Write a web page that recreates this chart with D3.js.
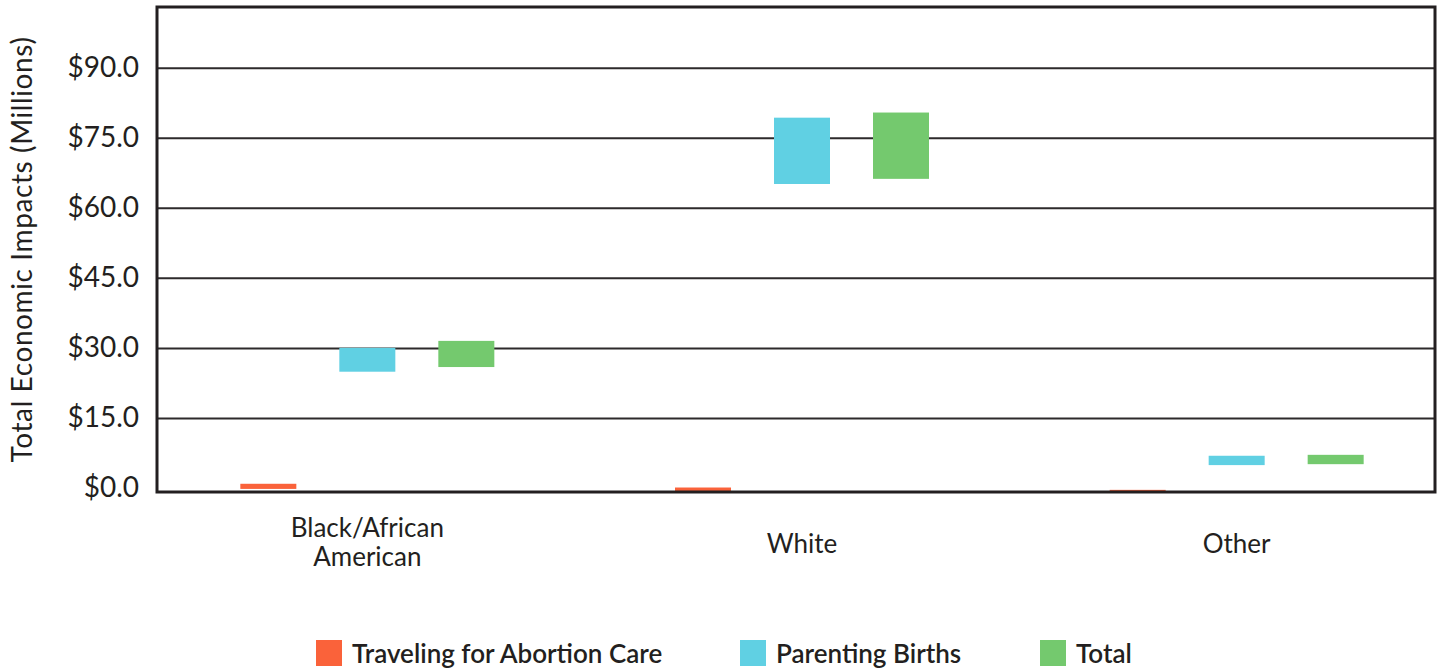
<!DOCTYPE html>
<html>
<head>
<meta charset="utf-8">
<script src="https://cdn.jsdelivr.net/npm/d3@7"></script>
<style>
  body { margin: 0; background: #fff; }
  text { font-family: Lato, "Open Sans", sans-serif; fill: #231f20; }
</style>
</head>
<body>
<div id="chart"></div>
<script>
// categories and series
const categories = ["Black/African American", "White", "Other"];
const categoryLines = [["Black/African", "American"], ["White"], ["Other"]];
const series = ["Traveling for Abortion Care", "Parenting Births", "Total"];
const colors = ["#fa623a", "#60d0e3", "#74c96e"];

// low / high of each floating bar, in millions, per category
const travelLow  = [-0.2, -0.7, -0.8];
const travelHigh = [0.9, 0.1, -0.4];
const parentLow  = [24.9, 65.1, 4.9];
const parentHigh = [30.0, 79.3, 6.9];
const totalLow   = [25.9, 66.2, 5.1];
const totalHigh  = [31.5, 80.4, 7.1];

const yTicks = [0, 15, 30, 45, 60, 75, 90];

const width = 1443, height = 670;
const frame = {left: 157, right: 1435, top: 7, bottom: 492};

const svg = d3.select("#chart").append("svg")
    .attr("width", width)
    .attr("height", height);

const y = d3.scaleLinear()
    .domain([-0.86, 103])
    .range([frame.bottom, frame.top]);

const x = d3.scaleBand()
    .domain(categories)
    .range([150, 1454]);

const xSub = d3.scalePoint()
    .domain(series)
    .range([-99, 99]);
const barWidth = 56;

// gridlines + tick labels
svg.append("g")
    .attr("transform", `translate(${frame.left},0)`)
    .call(d3.axisLeft(y).tickValues(yTicks).tickFormat(d => "$" + d3.format(".1f")(d)).tickSize(0).tickPadding(18))
    .call(g => g.select(".domain").remove())
    .call(g => g.selectAll(".tick text").style("font-size", "28px").attr("fill", "#231f20"))
    .call(g => g.selectAll(".tick").filter(d => d > 0).append("line")
        .attr("x2", frame.right - frame.left)
        .attr("stroke", "#2d2a2b")
        .attr("stroke-width", 2));

// bars
const rows = categories.map((c, i) => ({
  category: c,
  values: [
    {key: series[0], low: travelLow[i], high: travelHigh[i]},
    {key: series[1], low: parentLow[i], high: parentHigh[i]},
    {key: series[2], low: totalLow[i], high: totalHigh[i]},
  ]
}));

svg.append("g")
  .selectAll("g")
  .data(rows)
  .join("g")
    .attr("transform", d => `translate(${x(d.category) + x.bandwidth() / 2},0)`)
  .selectAll("rect")
  .data(d => d.values)
  .join("rect")
    .attr("x", d => xSub(d.key) - barWidth / 2)
    .attr("width", barWidth)
    .attr("y", d => y(d.high))
    .attr("height", d => y(d.low) - y(d.high))
    .attr("fill", (d, i) => colors[i]);

// frame
svg.append("rect")
    .attr("x", frame.left)
    .attr("y", frame.top)
    .attr("width", frame.right - frame.left)
    .attr("height", frame.bottom - frame.top)
    .attr("fill", "none")
    .attr("stroke", "#231f20")
    .attr("stroke-width", 3);

// category labels
const catLabels = svg.append("g")
  .selectAll("text")
  .data(categories)
  .join("text")
    .attr("x", d => x(d) + x.bandwidth() / 2)
    .attr("y", (d, i) => categoryLines[i].length > 1 ? 537 : 553)
    .attr("text-anchor", "middle")
    .style("font-size", "26px");
catLabels.selectAll("tspan")
  .data((d, i) => categoryLines[i])
  .join("tspan")
    .attr("x", function() { return this.parentNode.getAttribute("x"); })
    .attr("dy", (d, i) => i === 0 ? 0 : 29)
    .text(d => d);

// y axis title
svg.append("text")
    .attr("transform", `translate(32,${(frame.top + frame.bottom) / 2}) rotate(-90)`)
    .attr("text-anchor", "middle")
    .style("font-size", "28px")
    .style("letter-spacing", "0.6px")
    .text("Total Economic Impacts (Millions)");

// legend
const legendX = [316, 740, 1040];
const legend = svg.append("g")
  .selectAll("g")
  .data(series)
  .join("g")
    .attr("transform", (d, i) => `translate(${legendX[i]},640)`);
legend.append("rect")
    .attr("width", 26)
    .attr("height", 26)
    .attr("fill", (d, i) => colors[i]);
legend.append("text")
    .attr("x", 36)
    .attr("y", 23)
    .style("font-size", "26px")
    .style("font-weight", "600")
    .text(d => d);
</script>
</body>
</html>
